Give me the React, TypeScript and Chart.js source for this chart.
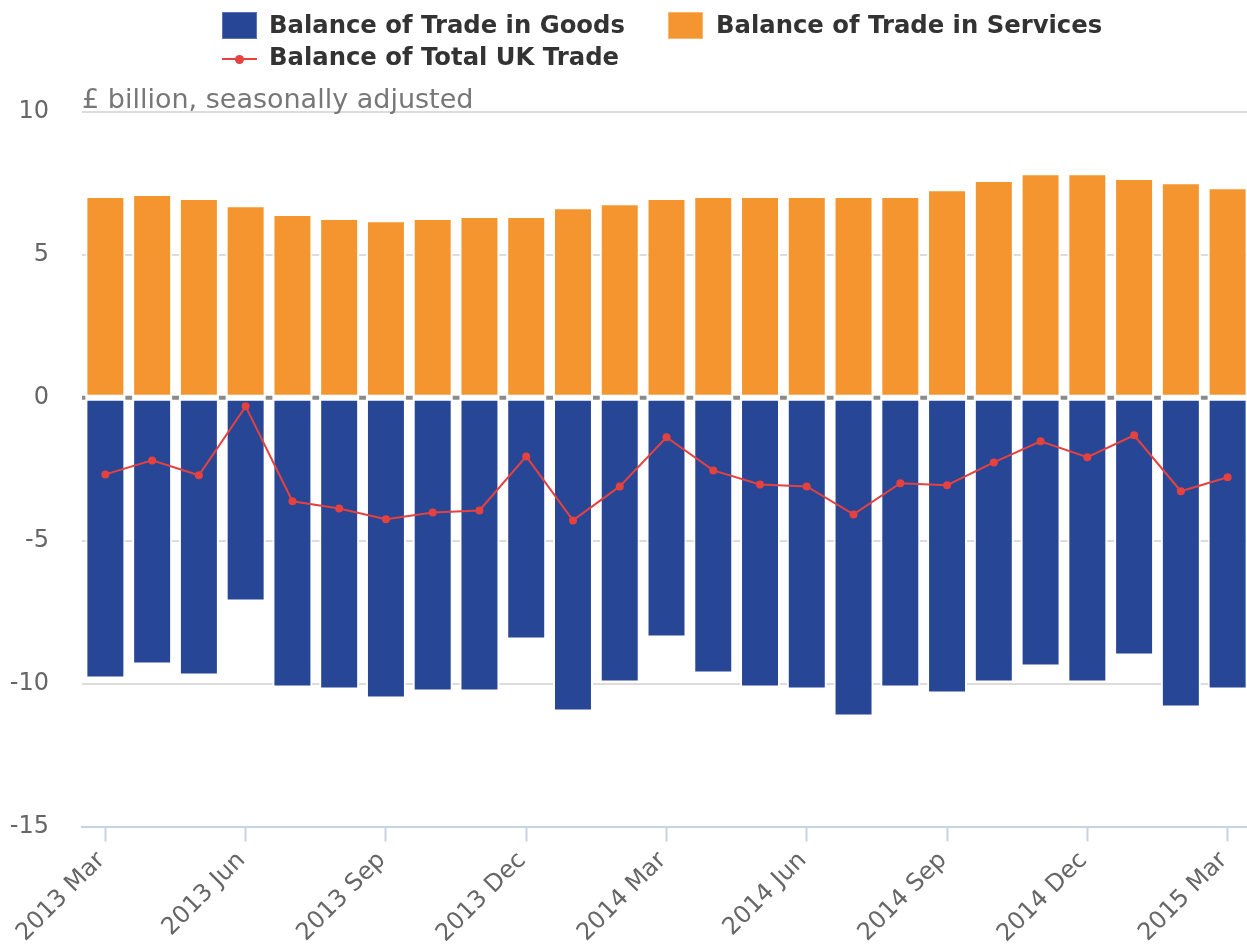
import React, { useEffect, useRef } from "react";
import { Chart, registerables } from "chart.js";

Chart.register(...registerables);

const months = [
  "2013 Mar", "2013 Apr", "2013 May", "2013 Jun", "2013 Jul", "2013 Aug", "2013 Sep",
  "2013 Oct", "2013 Nov", "2013 Dec", "2014 Jan", "2014 Feb", "2014 Mar", "2014 Apr",
  "2014 May", "2014 Jun", "2014 Jul", "2014 Aug", "2014 Sep", "2014 Oct", "2014 Nov",
  "2014 Dec", "2015 Jan", "2015 Feb", "2015 Mar",
];

const goods = [
  -9.82, -9.33, -9.72, -7.13, -10.14, -10.21, -10.52, -10.28, -10.28, -8.46, -10.98, -9.96,
  -8.39, -9.65, -10.14, -10.21, -11.15, -10.14, -10.35, -9.96, -9.4, -9.96, -9.02, -10.84, -10.21,
];

const services = [
  7.06, 7.13, 6.99, 6.74, 6.43, 6.29, 6.21, 6.29, 6.36, 6.36, 6.67, 6.81,
  6.99, 7.06, 7.06, 7.06, 7.06, 7.06, 7.3, 7.62, 7.86, 7.86, 7.69, 7.54, 7.37,
];

const total = [
  -2.68, -2.19, -2.71, -0.3, -3.62, -3.87, -4.25, -4.01, -3.94, -2.05, -4.29, -3.1,
  -1.38, -2.54, -3.03, -3.1, -4.08, -2.99, -3.06, -2.26, -1.52, -2.08, -1.31, -3.27, -2.78,
];

const seriesNames = [
  "Balance of Trade in Goods",
  "Balance of Trade in Services",
  "Balance of Total UK Trade",
];
const unitLabel = "£ billion, seasonally adjusted";

const BLUE = "#274796";
const ORANGE = "#f49530";
const RED = "#e5413f";
const FONT = "'DejaVu Sans', sans-serif";

const titlePlugin = {
  id: "unitTitle",
  afterDraw(chart: any) {
    const { ctx, chartArea } = chart;
    ctx.save();
    ctx.font = `27px ${FONT}`;
    ctx.fillStyle = "#777777";
    ctx.textAlign = "left";
    ctx.textBaseline = "alphabetic";
    ctx.fillText(unitLabel, chartArea.left, chartArea.top - 4);
    ctx.restore();
  },
};

// zero line: visible only in the gaps between bars (bars carry white borders)
const zeroLinePlugin = {
  id: "zeroLine",
  beforeDatasetsDraw(chart: any) {
    const { ctx, chartArea, scales } = chart;
    const y = scales.y.getPixelForValue(0);
    const meta = chart.getDatasetMeta(1);
    const bars = meta.data as any[];
    ctx.save();
    ctx.strokeStyle = "#8a8a8a";
    ctx.lineWidth = 4;
    ctx.beginPath();
    let start = chartArea.left;
    for (const b of bars) {
      const left = b.x - b.width / 2;
      if (left > start) {
        ctx.moveTo(start, y);
        ctx.lineTo(left, y);
      }
      start = b.x + b.width / 2;
    }
    if (start < chartArea.right) {
      ctx.moveTo(start, y);
      ctx.lineTo(chartArea.right, y);
    }
    ctx.stroke();
    ctx.restore();
  },
};

export default function App() {
  const canvasRef = useRef<HTMLCanvasElement | null>(null);

  useEffect(() => {
    if (!canvasRef.current) return;
    const chart = new Chart(canvasRef.current, {
      type: "bar",
      data: {
        labels: months,
        datasets: [
          {
            type: "line",
            label: seriesNames[2],
            data: total,
            borderColor: RED,
            backgroundColor: RED,
            borderWidth: 2,
            pointRadius: 4,
            pointBorderWidth: 0,
            pointBackgroundColor: RED,
            stack: "line",
            order: 0,
            tension: 0,
          } as any,
          {
            label: seriesNames[0],
            data: goods,
            backgroundColor: BLUE,
            borderColor: "#ffffff",
            borderWidth: 2,
            borderSkipped: false,
            stack: "bars",
            order: 1,
          },
          {
            label: seriesNames[1],
            data: services,
            backgroundColor: ORANGE,
            borderColor: "#ffffff",
            borderWidth: 2,
            borderSkipped: false,
            stack: "bars",
            order: 2,
          },
        ],
      },
      options: {
        animation: false,
        responsive: false,
        maintainAspectRatio: false,
        layout: { padding: { top: 112, right: 0, bottom: 0, left: 0 } },
        plugins: {
          legend: { display: false },
          title: { display: false },
          tooltip: { enabled: false },
        },
        datasets: {
          bar: { categoryPercentage: 1, barPercentage: 0.855 },
        },
        scales: {
          x: {
            stacked: true,
            offset: true,
            grid: {
              display: true,
              offset: false,
              drawOnChartArea: false,
              drawTicks: true,
              tickLength: 15,
              tickWidth: 2,
              tickColor: (ctx: any) => (ctx.index % 3 === 0 ? "#c6d3e3" : "rgba(0,0,0,0)"),
            },
            border: { display: true, color: "#c6d3e3", width: 2 },
            ticks: {
              autoSkip: false,
              maxRotation: 45,
              minRotation: 45,
              padding: 5,
              labelOffset: -4,
              color: "#666666",
              font: { family: FONT, size: 24 },
              callback: (_v: any, i: number) => (i % 3 === 0 ? months[i] : ""),
            },
            afterFit: (scale: any) => {
              scale.height = 117.5;
            },
          },
          y: {
            stacked: true,
            min: -15,
            max: 10,
            border: { display: false },
            grid: {
              drawTicks: false,
              color: (ctx: any) =>
                ctx.tick && (ctx.tick.value === 0 || ctx.tick.value === -15)
                  ? "rgba(0,0,0,0)"
                  : "#dcdcdc",
              lineWidth: 2,
            },
            ticks: {
              stepSize: 5,
              padding: 33,
              color: "#666666",
              font: { family: FONT, size: 24 },
            },
            afterFit: (scale: any) => {
              scale.width = 82;
            },
          },
        },
      },
      plugins: [titlePlugin, zeroLinePlugin],
    });
    return () => chart.destroy();
  }, []);

  const legendText: React.CSSProperties = {
    position: "absolute",
    fontFamily: FONT,
    fontWeight: "bold",
    fontSize: 24.3,
    color: "#333333",
    whiteSpace: "nowrap",
    lineHeight: "30px",
    height: 30,
  };

  return (
    <div
      style={{
        position: "absolute",
        left: 0,
        top: 0,
        width: 1247,
        height: 944,
        overflow: "hidden",
        background: "#ffffff",
      }}
    >
      <canvas
        ref={canvasRef}
        width={1255}
        height={944}
        style={{ position: "absolute", left: 0, top: 0, width: 1255, height: 944 }}
      />
      <div
        style={{
          position: "absolute",
          left: 222,
          top: 12,
          width: 35,
          height: 27,
          background: BLUE,
          boxSizing: "border-box",
          border: "1px solid #5a74b4",
        }}
      />
      <div style={{ ...legendText, left: 269, top: 10 }}>{seriesNames[0]}</div>
      <div
        style={{
          position: "absolute",
          left: 668,
          top: 12,
          width: 35,
          height: 27,
          background: ORANGE,
          boxSizing: "border-box",
          border: "1px solid #f8b56e",
        }}
      />
      <div style={{ ...legendText, left: 716, top: 10 }}>{seriesNames[1]}</div>
      <div
        style={{
          position: "absolute",
          left: 222,
          top: 58,
          width: 35,
          height: 2,
          background: RED,
        }}
      />
      <div
        style={{
          position: "absolute",
          left: 235,
          top: 54.5,
          width: 9,
          height: 9,
          borderRadius: "50%",
          background: RED,
        }}
      />
      <div style={{ ...legendText, left: 269, top: 42 }}>{seriesNames[2]}</div>
    </div>
  );
}
